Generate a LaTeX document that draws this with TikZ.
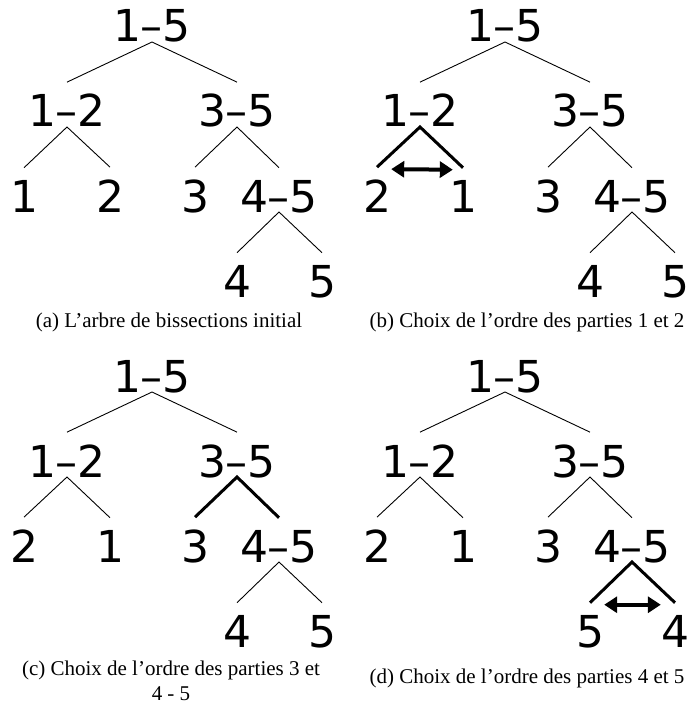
\documentclass[tikz,border=0pt]{standalone}
\usepackage{fontspec}
\setmainfont{Liberation Serif}
\newfontfamily\arbrefont{DejaVu Sans}
\usepackage{tikz}
\usetikzlibrary{arrows.meta}

\tikzset{
  etiq/.style={font=\arbrefont\fontsize{44}{50}\selectfont,inner sep=0pt,anchor=base},
  arete/.style={line width=0.9pt},
  choix/.style={line width=3pt},
  echange/.style={line width=4pt,{Triangle[length=13pt,width=16pt]}-{Triangle[length=13pt,width=16pt]}},
  legende/.style={font=\fontsize{21}{25}\selectfont,inner sep=0pt,anchor=base,align=center},
  e12/.style=arete, e35/.style=arete, e45/.style=arete
}

% arbre de bissections : prefixe, racine (x,y), feuilles sous 1-2, feuilles sous 4-5
\newcommand{\arbre}[7]{
  \node[etiq] (#1r) at (#2,#3) {1–5};
  \node[etiq] (#1g) at (#2-85,#3+85) {1–2};
  \node[etiq] (#1d) at (#2+85,#3+85) {3–5};
  \node[etiq] (#1gg) at (#2-128,#3+170) {#4};
  \node[etiq] (#1gd) at (#2-42,#3+170) {#5};
  \node[etiq] (#1dg) at (#2+43,#3+170) {3};
  \node[etiq] (#1dd) at (#2+127,#3+170) {4–5};
  \node[etiq] (#1ddg) at (#2+85,#3+255) {#6};
  \node[etiq] (#1ddd) at (#2+170,#3+255) {#7};
  \draw[arete] ([yshift=12pt]#1g.north) -- (#1r.base) -- ([yshift=12pt]#1d.north);
  \draw[e12] ([yshift=12pt]#1gg.north) -- (#1g.base) -- ([yshift=12pt]#1gd.north);
  \draw[e35] ([yshift=12pt]#1dg.north) -- (#1d.base) -- ([yshift=12pt]#1dd.north);
  \draw[e45] ([yshift=12pt]#1ddg.north) -- (#1dd.base) -- ([yshift=12pt]#1ddd.north);
}

\begin{document}
\begin{tikzpicture}[x=1pt,y=-1pt]
  \useasboundingbox (0,0) rectangle (689,706);

  % (a)
  \arbre{a-}{152}{42}{1}{2}{4}{5}
  \node[legende] (leg-a) at (169,327) {(a) L’arbre de bissections initial};

  % (b)
  \begin{scope}[e12/.style=choix]
    \arbre{b-}{505}{42}{2}{1}{4}{5}
  \end{scope}
  \draw[echange] ([yshift=10pt]b-gg.north east) -- ([xshift=4pt,yshift=10pt]b-gd.north west);
  \node[legende] (leg-b) at (527,327) {(b) Choix de l’ordre des parties 1 et 2};

  % (c)
  \begin{scope}[e35/.style=choix]
    \arbre{c-}{152}{392}{2}{1}{4}{5}
  \end{scope}
  \node[legende] (leg-c) at (171,700) {(c) Choix de l’ordre des parties 3 et\\4 - 5};

  % (d)
  \begin{scope}[e45/.style=choix]
    \arbre{d-}{505}{392}{2}{1}{5}{4}
  \end{scope}
  \draw[echange] ([yshift=10pt]d-ddg.north east) -- ([yshift=10pt]d-ddd.north west);
  \node[legende] (leg-d) at (527,683) {(d) Choix de l’ordre des parties 4 et 5};
\end{tikzpicture}
\end{document}
